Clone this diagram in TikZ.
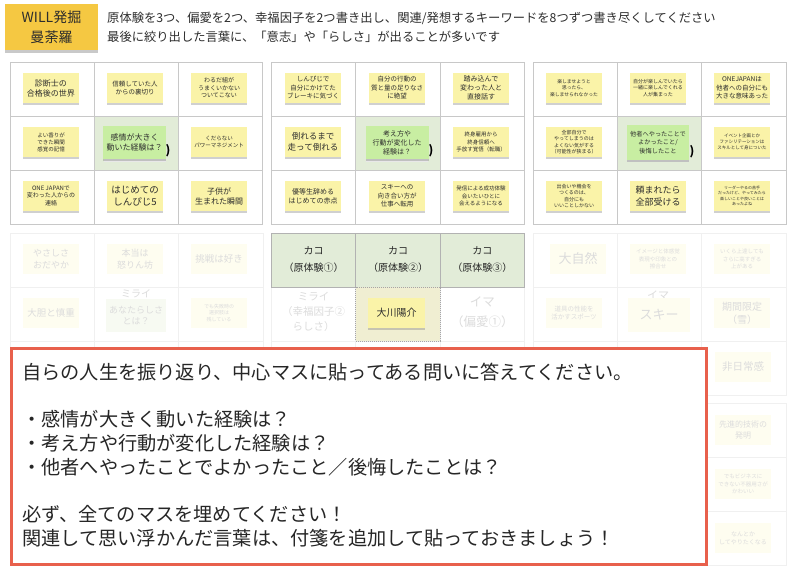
\documentclass[tikz,border=0pt]{standalone}
\usepackage{fontspec}
\setmainfont{Noto Sans CJK JP}
\usetikzlibrary{positioning,shadows}
\definecolor{kiiro}{RGB}{250,243,168}
\definecolor{usukiiro}{RGB}{254,253,240}
\definecolor{usumidori}{RGB}{247,250,242}
\definecolor{midori}{RGB}{200,238,162}
\definecolor{masumidori}{RGB}{226,236,216}
\definecolor{masukiiro}{RGB}{240,238,210}
\definecolor{yamabuki}{RGB}{245,200,66}
\definecolor{aka}{RGB}{232,96,76}
\definecolor{sen}{RGB}{200,200,200}
\definecolor{ususen}{RGB}{240,240,240}
\definecolor{hakuji}{RGB}{220,220,220}
\definecolor{sumi}{RGB}{45,45,45}
\newcommand{\moji}[2]{\fontsize{#1}{#2}\selectfont}
\tikzset{
  masu/.style={draw=sen,line width=1pt,fill=white},
  usumasu/.style={draw=ususen,line width=0.8pt,fill=white},
  kami/.style={minimum width=56pt,minimum height=30pt,inner sep=1pt,align=center},
  fusen/.style={kami,fill=kiiro,text=sumi,
    drop shadow={shadow xshift=0pt,shadow yshift=-2pt,opacity=.3,fill=black!60}},
  usufusen/.style={kami,fill=usukiiro,text=hakuji},
  toi/.style={fusen,fill=midori,minimum width=63pt,minimum height=33pt},
  ushiro/.style={fill=gray!18,minimum width=62pt,minimum height=30pt,inner sep=0pt},
  kakko/.style={inner sep=0pt,font=\moji{12}{12}\bfseries,text=black},
  usumoji/.style={align=center,inner sep=0pt,text=hakuji},
  kako/.style={align=center,inner sep=0pt,text=black!85,font=\moji{10}{17}},
  midashi/.style={anchor=west,inner sep=0pt,text=sumi,font=\moji{12.3}{14}},
  setsumei/.style={anchor=west,inner sep=0pt,text=black!85,font=\moji{19.2}{22}},
}

\begin{document}
\begin{tikzpicture}[x=1pt,y=-1pt]
  \useasboundingbox (0,0) rectangle (800,573);
  \fill[white] (0,0) rectangle (800,573);

  % title and instructions
  \node[fill=yamabuki,minimum width=93pt,minimum height=46pt,align=center,
    font=\moji{14}{20},text=sumi,
    drop shadow={shadow xshift=0pt,shadow yshift=-3pt,opacity=.35,fill=black!60}]
    (taitoru) at (51.5,27) {WILL発掘\\曼荼羅};
  \node[midashi] (setsu1) at (107,18) {原体験を3つ、偏愛を2つ、幸福因子を2つ書き出し、関連/発想するキーワードを8つずつ書き尽くしてください};
  \node[midashi] (setsu2) at (107,37) {最後に絞り出した言葉に、「意志」や「らしさ」が出ることが多いです};

  % the nine grids
  \foreach \gx in {10,271.5,533}
    \foreach \gy in {233,403}
      \foreach \i in {0,1,2}
        \foreach \j in {0,1,2}
          \draw[usumasu] (\gx+84.33*\i,\gy+54*\j) rectangle ++(84.33,54);
  \foreach \gx in {10,271.5,533}{
    \foreach \i in {0,1,2}
      \foreach \j in {0,1,2}
        \draw[masu] (\gx+84.33*\i,62+54*\j) rectangle ++(84.33,54);
    \draw[masu,fill=masumidori] (\gx+84.33,116) rectangle ++(84.33,54);
  }
  \foreach \i in {0,1,2}
    \draw[draw=gray!60,line width=1pt,fill=masumidori] (271.5+84.33*\i,233) rectangle ++(84.33,54);
  \draw[draw=gray!70,densely dotted,line width=1pt,fill=masukiiro] (355.8,287) rectangle ++(84.33,54);

  % left grid
  \node[fusen,font=\moji{8}{10}] (a1) at (51,88) {診断士の\\合格後の世界};
  \node[fusen,font=\moji{6.5}{8.5}] (a2) at (135,88) {信頼していた人\\からの裏切り};
  \node[fusen,font=\moji{6}{7.5}] (a3) at (219,88) {わるだ組が\\うまくいかない\\ついてこない};
  \node[fusen,font=\moji{5.5}{7}] (a4) at (51,142) {よい香りが\\できた瞬間\\感覚の記憶};
  \node[ushiro] (a5u) at (135,147) {};
  \node[toi,font=\moji{8}{10.5}] (a5) at (134.5,142.5) {感情が大きく\\動いた経験は？};
  \node[kakko] (a5k) at (168,151) {)};
  \node[fusen,font=\moji{5.5}{7}] (a6) at (219,142) {くだらない\\パワーマネジメント};
  \node[fusen,font=\moji{6}{7.5}] (a7) at (51,196) {ONE JAPANで\\変わった人からの\\連絡};
  \node[fusen,font=\moji{9.5}{12}] (a8) at (135,196) {はじめての\\しんぴじ5};
  \node[fusen,font=\moji{8}{10}] (a9) at (219,196) {子供が\\生まれた瞬間};

  % middle grid
  \node[fusen,font=\moji{6.5}{8.5}] (b1) at (313,88) {しんぴじで\\自分にかけてた\\ブレーキに気づく};
  \node[fusen,font=\moji{6.5}{8.5}] (b2) at (397,88) {自分の行動の\\質と量の足りなさ\\に絶望};
  \node[fusen,font=\moji{7}{9}] (b3) at (481,88) {踏み込んで\\変わった人と\\直接話す};
  \node[fusen,font=\moji{8.5}{11}] (b4) at (313,142) {倒れるまで\\走って倒れる};
  \node[ushiro] (b5u) at (397,147) {};
  \node[toi,font=\moji{7}{9}] (b5) at (397,142.5) {考え方や\\行動が変化した\\経験は？};
  \node[kakko] (b5k) at (431,151) {)};
  \node[fusen,font=\moji{5.5}{7.5}] (b6) at (481,142) {終身雇用から\\終身信頼へ\\手放す覚悟（転職）};
  \node[fusen,font=\moji{7}{9}] (b7) at (313,196) {優等生辞める\\はじめての赤点};
  \node[fusen,font=\moji{6.5}{8.5}] (b8) at (397,196) {スキーへの\\向き合い方が\\仕事へ転用};
  \node[fusen,font=\moji{5.5}{7.5}] (b9) at (481,196) {発信による成功体験\\会いたいひとに\\会えるようになる};

  % right grid
  \node[fusen,font=\moji{4.8}{6.5}] (c1) at (574,88) {楽しませようと\\思ったら、\\楽しませられなかった};
  \node[fusen,font=\moji{5}{6.5}] (c2) at (658,88) {自分が楽しんでいたら\\一緒に楽しんでくれる\\人が集まった};
  \node[fusen,font=\moji{6.5}{8.5}] (c3) at (742,88) {ONEJAPANは\\他者への自分にも\\大きな意味あった};
  \node[fusen,font=\moji{5}{6.5}] (c4) at (574,142) {全部自分で\\やってしまうのは\\よくない気がする\\（可能性が狭まる）};
  \node[ushiro] (c5u) at (658,147) {};
  \node[toi,font=\moji{6.2}{8.5},minimum width=62pt,minimum height=35pt] (c5) at (658,142.5) {他者へやったことで\\よかったこと/\\後悔したこと};
  \node[kakko] (c5k) at (692,152) {)};
  \node[fusen,font=\moji{4.5}{6}] (c6) at (742,142) {イベント企画とか\\ファシリテーションは\\スキルとして身についた};
  \node[fusen,font=\moji{5}{6.5}] (c7) at (574,196) {出会いや機会を\\つくるのは、\\自分にも\\いいことしかない};
  \node[fusen,font=\moji{9}{12}] (c8) at (658,196) {頼まれたら\\全部受ける};
  \node[fusen,font=\moji{4}{5.5}] (c9) at (742,196) {リーダーやるの苦手\\だったけど、やってみたら\\楽しいことや良いことは\\あったよね};

  % second row, faded
  \node[usufusen,font=\moji{9}{12}] (d1) at (51,259) {やさしさ\\おだやか};
  \node[usufusen,font=\moji{9}{12}] (d2) at (135,259) {本当は\\怒りん坊};
  \node[usufusen,font=\moji{9.5}{12}] (d3) at (219,259) {挑戦は好き};
  \node[usufusen,font=\moji{9.5}{12}] (d4) at (51,313) {大胆と慎重};
  \node[usumoji,font=\moji{10}{12}] (d5m) at (136,294) {ミライ};
  \node[usufusen,fill=usumidori,font=\moji{9}{11},minimum width=60pt,minimum height=33pt] (d5) at (136,315.5) {あなたらしさ\\とは？};
  \node[usufusen,font=\moji{5}{6.5}] (d6) at (219,313) {でも失敗時の\\選択肢は\\残している};

  \node[kako] (e1) at (313.7,259.5) {カコ\\（原体験①）};
  \node[kako] (e2) at (398,259.5) {カコ\\（原体験②）};
  \node[kako] (e3) at (482.3,259.5) {カコ\\（原体験③）};
  \node[usumoji,font=\moji{10.5}{15}] (e4) at (313.7,312) {ミライ\\（幸福因子②\\らしさ）};
  \node[fusen,font=\moji{10}{12},minimum width=57pt] (e5) at (396.5,313) {大川陽介};
  \node[usumoji,font=\moji{12.5}{20}] (e6) at (482.3,312) {イマ\\（偏愛①）};

  \node[usufusen,font=\moji{13}{15}] (f1) at (578,259) {大自然};
  \node[usufusen,font=\moji{5.5}{7.5}] (f2) at (658,259) {イメージと体感覚\\表現や印象との\\擦合せ};
  \node[usufusen,font=\moji{5.5}{7.5}] (f3) at (742,259) {いくら上達しても\\さらに高すぎる\\上がある};
  \node[usufusen,font=\moji{6.5}{8.5}] (f4) at (574,313) {道具の性能を\\活かすスポーツ};
  \node[usumoji,font=\moji{11}{12}] (f5m) at (658,295) {イマ};
  \node[usufusen,font=\moji{13}{15},minimum width=62pt,minimum height=34pt] (f5) at (659,315) {スキー};
  \node[usufusen,font=\moji{10}{13}] (f6) at (742,313) {期間限定\\（雪）};
  \node[usufusen,font=\moji{10.5}{13}] (f9) at (743,367) {非日常感};

  % third row, faded
  \node[usufusen,font=\moji{8}{11}] (g3) at (743,430) {先進的技術の\\発明};
  \node[usufusen,font=\moji{5.5}{7.5}] (g6) at (743,484) {でもビジネスに\\できない不器用さが\\かわいい};
  \node[usufusen,font=\moji{6}{8}] (g9) at (743,538) {なんとか\\してやりたくなる};

  % the note
  \draw[draw=aka,line width=3pt,fill=white,
    drop shadow={shadow xshift=0pt,shadow yshift=-2pt,opacity=.15,fill=black!60}]
    (11,348) rectangle (706,564);
  \node[setsumei] (s1) at (22,372) {自らの人生を振り返り、中心マスに貼ってある問いに答えてください。};
  \node[setsumei] (s2) at (22,419.4) {・感情が大きく動いた経験は？};
  \node[setsumei] (s3) at (22,443.1) {・考え方や行動が変化した経験は？};
  \node[setsumei] (s4) at (22,466.8) {・他者へやったことでよかったこと／後悔したことは？};
  \node[setsumei] (s5) at (22,514.2) {必ず、全てのマスを埋めてください！};
  \node[setsumei] (s6) at (22,537.9) {関連して思い浮かんだ言葉は、付箋を追加して貼っておきましょう！};
\end{tikzpicture}
\end{document}
